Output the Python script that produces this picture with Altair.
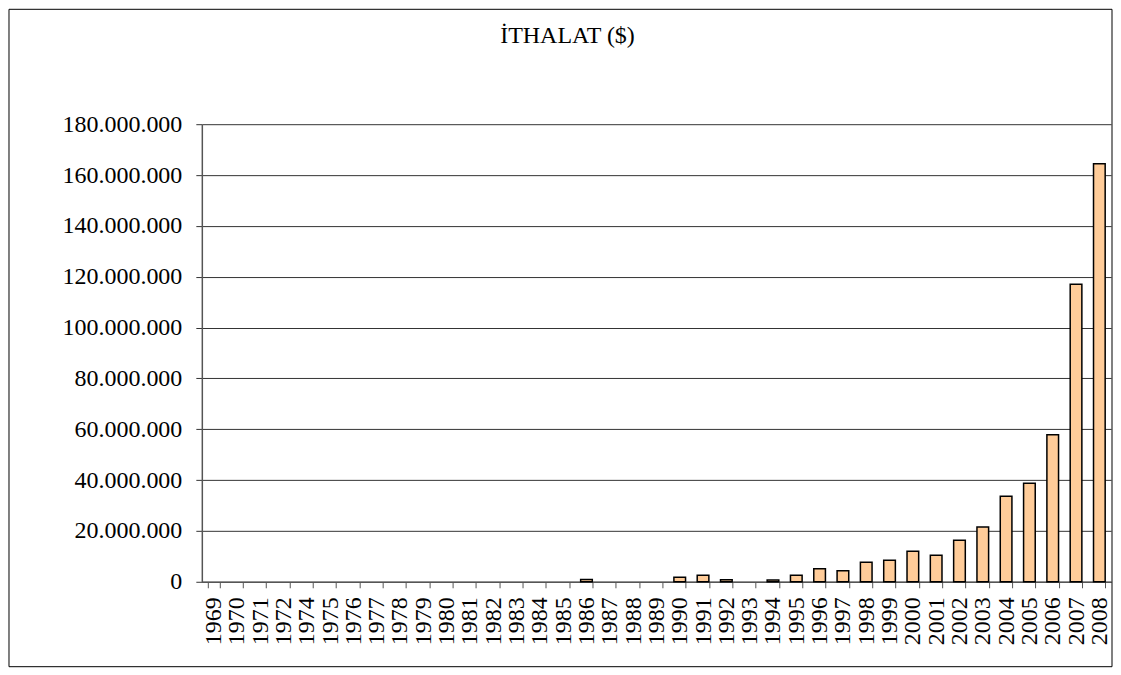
import altair as alt
import pandas as pd

years = ["1969", "1970", "1971", "1972", "1974", "1975", "1976", "1977", "1978", "1979",
         "1980", "1981", "1982", "1983", "1984", "1985", "1986", "1987", "1988", "1989",
         "1990", "1991", "1992", "1993", "1994", "1995", "1996", "1997", "1998", "1999",
         "2000", "2001", "2002", "2003", "2004", "2005", "2006", "2007", "2008"]
imports = [0, 0, 0, 0, 0, 0, 0, 0, 0, 0,
           0, 0, 0, 0, 0, 0, 900000, 0, 0, 0,
           1800000, 2600000, 800000, 0, 700000, 2600000, 5100000, 4300000, 7700000, 8500000,
           12000000, 10400000, 16300000, 21500000, 33600000, 38800000, 57800000, 117000000, 164400000]
y_ticks = [0, 20000000, 40000000, 60000000, 80000000, 100000000,
           120000000, 140000000, 160000000, 180000000]
title_text = "İTHALAT ($)"

df = pd.DataFrame({"year": years, "value": imports})
FONT = "Liberation Serif, Times New Roman, serif"
W, H = 910, 458

bars = alt.Chart(df).transform_filter("datum.value > 0").mark_bar(
    color="#FFCC99", stroke="#000000", strokeWidth=1.5
).encode(
    x=alt.X("year:N", sort=years, title=None,
            scale=alt.Scale(domain=years, paddingInner=0.5, paddingOuter=0.25),
            axis=alt.Axis(labelAngle=270, labelFont=FONT, labelFontSize=24, labelColor="#000000",
                          labelPadding=9, tickBand="extent", tickSize=6, tickColor="#555555",
                          domainColor="#555555", domainWidth=1.5, grid=False, labelOverlap=False)),
    y=alt.Y("value:Q", title=None,
            scale=alt.Scale(domain=[0, 180000000], nice=False),
            axis=alt.Axis(values=y_ticks, labelFont=FONT, labelFontSize=24, labelColor="#000000",
                          labelPadding=14, tickSize=6, tickColor="#333333",
                          domainColor="#555555", domainWidth=1.5,
                          gridColor="#333333", gridWidth=1, gridOpacity=1,
                          labelExpr="replace(replace(format(datum.value, ','), ',', '.'), ',', '.')")),
)

one = pd.DataFrame({"t": [title_text]})

title = alt.Chart(one).mark_text(
    font=FONT, fontSize=24, color="#000000", align="center", baseline="alphabetic"
).encode(x=alt.value(366), y=alt.value(-81), text="t:N")

frame = alt.Chart(one).mark_rect(
    fill="transparent", stroke="#000000", strokeWidth=1
).encode(x=alt.value(-193), x2=alt.value(911), y=alt.value(-115), y2=alt.value(543))

chart = alt.layer(frame, bars, title).properties(
    width=W, height=H, padding=0, background="#ffffff"
).configure_view(stroke=None)

chart.save("out.html", embed_options={"renderer": "svg", "actions": False})
